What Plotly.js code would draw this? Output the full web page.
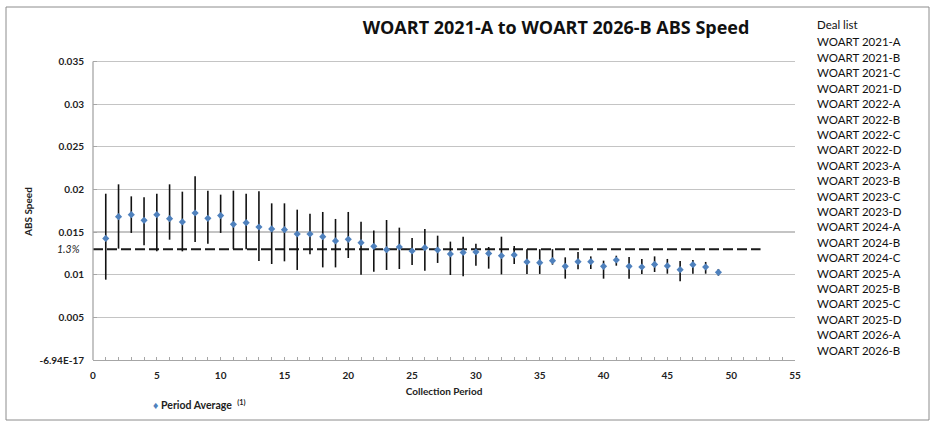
<!DOCTYPE html>
<html>
<head>
<meta charset="utf-8">
<script src="https://cdn.plot.ly/plotly-3.0.1.min.js"></script>
<style>
  html, body { margin: 0; padding: 0; background: #fff; }
  #chart { width: 936px; height: 427px; }
</style>
</head>
<body>
<div id="chart"></div>
<script>
'use strict'

// Collection periods and the speed readings across the deal list
const periods = [1,2,3,4,5,6,7,8,9,10,11,12,13,14,15,16,17,18,19,20,21,22,23,24,25,
                 26,27,28,29,30,31,32,33,34,35,36,37,38,39,40,41,42,43,44,45,46,47,48,49];
const periodAvg = [0.01426,0.01681,0.01704,0.01638,0.01704,0.01657,0.01619,0.01724,0.01661,0.01693,
                   0.01591,0.01610,0.01560,0.01537,0.01528,0.01478,0.01478,0.01446,0.01396,0.01415,
                   0.01376,0.01333,0.01294,0.01325,0.01278,0.01317,0.01290,0.01243,0.01262,0.01267,
                   0.01250,0.01223,0.01232,0.01150,0.01141,0.01165,0.01098,0.01153,0.01153,0.01098,
                   0.01173,0.01098,0.01091,0.01121,0.01103,0.01059,0.01118,0.01091,0.01028];
const periodMax = [0.01950,0.02060,0.01919,0.01908,0.01950,0.02060,0.01974,0.02154,0.01986,0.01939,
                   0.01986,0.01950,0.01978,0.01837,0.01837,0.01763,0.01716,0.01736,0.01654,0.01736,
                   0.01622,0.01520,0.01642,0.01552,0.01431,0.01537,0.01458,0.01388,0.01446,0.01364,
                   0.01325,0.01446,0.01337,0.01300,0.01300,0.01300,0.01204,0.01267,0.01215,0.01165,
                   0.01223,0.01208,0.01185,0.01215,0.01185,0.01161,0.01173,0.01150,0.01067];
const periodMin = [0.00942,0.01306,0.01490,0.01345,0.01274,0.01411,0.01274,0.01384,0.01364,0.01490,
                   0.01300,0.01300,0.01161,0.01126,0.01157,0.01056,0.01239,0.01086,0.01086,0.01196,
                   0.01000,0.01036,0.01056,0.01067,0.01114,0.01048,0.01138,0.00997,0.00981,0.01106,
                   0.01071,0.01004,0.01126,0.01009,0.01009,0.01118,0.00954,0.01063,0.01067,0.00954,
                   0.01106,0.00954,0.01009,0.01032,0.01012,0.00922,0.01012,0.01012,0.00989];

// 1.3% reference level
const refLevel = 0.013;
const refSpan = [0, 52.3];

const yTickVals = [0, 0.005, 0.01, 0.015, 0.02, 0.025, 0.03, 0.035];
const yTickText = ['-6.94E-17', '0.005', '0.01', '0.015', '0.02', '0.025', '0.03', '0.035'];

const dealList = ['WOART 2021-A','WOART 2021-B','WOART 2021-C','WOART 2021-D',
                  'WOART 2022-A','WOART 2022-B','WOART 2022-C','WOART 2022-D',
                  'WOART 2023-A','WOART 2023-B','WOART 2023-C','WOART 2023-D',
                  'WOART 2024-A','WOART 2024-B','WOART 2024-C',
                  'WOART 2025-A','WOART 2025-B','WOART 2025-C','WOART 2025-D',
                  'WOART 2026-A','WOART 2026-B'];

// plot box in page pixels, used to place the text around it.
// The value axis runs to 0.036 so the 0.035 gridline sits inside the plot;
// the y axis line is hidden and drawn by a shape up to 0.035 only.
const W = 936, H = 427;
const yMax = 0.036;
const box = { l: 93, r: 795, t: 53, b: 360 };
const px = x => (x - box.l) / (box.r - box.l);
const py = y => (box.b - y) / (box.b - box.t);

const baseFont = 'Lato, "Liberation Sans", Arial, sans-serif';
const blue = '#4f81bd';
const gridColor = '#c4c4c4';
const axisColor = '#a6a6a6';

let avgTrace = {
    x: periods,
    y: periodAvg,
    mode: 'markers',
    type: 'scatter',
    name: 'Period Average',
    showlegend: false,
    marker: { symbol: 'diamond', size: 5.5, color: blue },
    error_y: {
        type: 'data',
        symmetric: false,
        array: periodMax.map((v, i) => v - periodAvg[i]),
        arrayminus: periodMin.map((v, i) => periodAvg[i] - v),
        color: '#111111',
        thickness: 1.6,
        width: 0
    }
};

let refTrace = {
    x: refSpan,
    y: [refLevel, refLevel],
    mode: 'lines',
    type: 'scatter',
    name: '1.3%',
    showlegend: false,
    hoverinfo: 'skip',
    line: { color: '#1a1a1a', width: 2, dash: '10px,4px' }
};

let annotations = [
    {
        xref: 'paper', yref: 'paper', x: px(28), y: py(212), xanchor: 'center', yanchor: 'middle',
        text: '<b>ABS Speed</b>', textangle: -90, showarrow: false,
        font: { family: baseFont, size: 10, color: '#222' }
    },
    {
        xref: 'paper', yref: 'y', x: px(82), y: refLevel, xanchor: 'right', yanchor: 'middle',
        text: '<i>1.3%</i>', showarrow: false,
        font: { family: baseFont, size: 10.5, color: '#222' }
    },
    {
        xref: 'paper', yref: 'paper', x: px(151), y: py(404), xanchor: 'left', yanchor: 'middle',
        text: '<span style="color:' + blue + '">♦</span> <b>Period Average</b>  <sup><b>(1)</b></sup>',
        showarrow: false,
        font: { family: baseFont, size: 10.5, color: '#222' }
    },
    {
        xref: 'paper', yref: 'paper', x: px(815), y: py(25), xanchor: 'left', yanchor: 'middle',
        text: 'Deal list', showarrow: false,
        font: { family: baseFont, size: 11.5, color: '#111' }
    }
];

dealList.forEach((deal, i) => {
    annotations.push({
        xref: 'paper', yref: 'paper', x: px(815), y: py(42 + i * 15.4), xanchor: 'left', yanchor: 'middle',
        text: deal, showarrow: false,
        font: { family: baseFont, size: 11.5, color: '#111' }
    });
});

const layout = {
    width: W,
    height: H,
    margin: { l: box.l, r: W - box.r, t: box.t, b: H - box.b, autoexpand: false },
    paper_bgcolor: '#ffffff',
    plot_bgcolor: '#ffffff',
    font: { family: baseFont, size: 10, color: '#222' },
    title: {
        text: 'WOART 2021-A to WOART 2026-B ABS Speed',
        x: 556 / W, xanchor: 'center',
        y: 1 - 28 / H, yanchor: 'middle',
        font: { family: '"Open Sans", sans-serif', size: 18, color: '#111', weight: 700 }
    },
    xaxis: {
        range: [0, 55],
        tickvals: [0,5,10,15,20,25,30,35,40,45,50,55],
        showgrid: false,
        zeroline: false,
        showline: true,
        linecolor: axisColor,
        linewidth: 1.3,
        ticks: 'inside',
        ticklen: 3,
        tickcolor: axisColor,
        minor: { dtick: 1, ticks: 'inside', ticklen: 3, tickcolor: axisColor, showgrid: false },
        tickfont: { family: baseFont, size: 10, color: '#222', weight: 'bold' },
        ticklabelstandoff: 6,
        fixedrange: true,
        title: {
            text: '<b>Collection Period</b>',
            standoff: 7,
            font: { family: baseFont, size: 10, color: '#222' }
        }
    },
    yaxis: {
        range: [0, yMax],
        tickvals: yTickVals,
        ticktext: yTickText,
        showgrid: true,
        gridcolor: gridColor,
        gridwidth: 1.3,
        zeroline: false,
        showline: false,
        ticks: 'inside',
        ticklen: 4,
        tickcolor: axisColor,
        minor: { tickvals: [], ticks: 'inside', ticklen: 4, tickcolor: axisColor, showgrid: false,
                 dtick: 0.001, tick0: 0 },
        tickfont: { family: baseFont, size: 10, color: '#222', weight: 'bold' },
        ticklabelstandoff: 8,
        fixedrange: true
    },
    shapes: [
        // value axis line, from 0 to the top gridline
        {
            type: 'line', xref: 'paper', yref: 'y', x0: 0, x1: 0, y0: 0, y1: yTickVals[yTickVals.length - 1],
            line: { color: axisColor, width: 1.3 }, layer: 'above'
        },
        {
            type: 'rect', xref: 'paper', yref: 'paper',
            x0: px(6), x1: px(929), y0: py(420), y1: py(7),
            line: { color: '#8c8c8c', width: 1 }, fillcolor: 'rgba(0,0,0,0)', layer: 'below'
        }
    ],
    annotations: annotations
};

Plotly.newPlot('chart', [refTrace, avgTrace], layout, { displayModeBar: false, staticPlot: true });
</script>
</body>
</html>
